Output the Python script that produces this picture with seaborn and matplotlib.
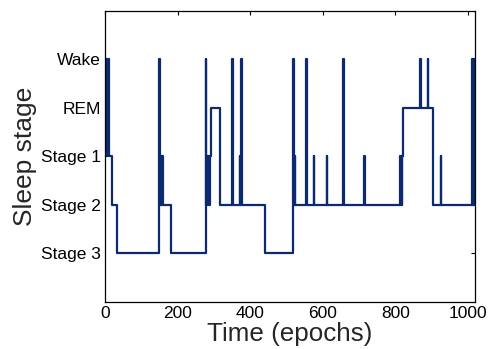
import numpy as np
import pandas as pd
import matplotlib
matplotlib.use("Agg")
import matplotlib.pyplot as plt
import seaborn as sns

# hypnogram: epoch where the stage changes, and the new stage
change_epoch = [0, 3, 4, 6, 7, 10, 18, 32,
                150, 151, 153, 154, 156, 157, 159, 182,
                278, 279, 281, 283, 285, 287, 289, 292, 318,
                351, 352, 372, 373, 374, 376, 377, 441,
                519, 520, 523, 524, 555, 556, 575, 576, 612, 613,
                657, 658, 715, 716, 813, 815, 816, 818, 819, 821,
                869, 870, 890, 891, 903, 925, 926, 1013, 1015, 1016, 1020]
change_stage = ["Wake", "Stage 1", "Wake", "Stage 1", "Wake", "Stage 1", "Stage 2", "Stage 3",
                "Wake", "Stage 1", "Stage 2", "Stage 1", "Stage 2", "Stage 1", "Stage 2", "Stage 3",
                "Wake", "Stage 2", "Stage 1", "Stage 2", "Stage 1", "Stage 2", "Stage 1", "REM", "Stage 2",
                "Wake", "Stage 2", "Stage 1", "Stage 2", "Stage 1", "Wake", "Stage 2", "Stage 3",
                "Wake", "Stage 2", "Stage 1", "Stage 2", "Wake", "Stage 2", "Stage 1", "Stage 2", "Stage 1", "Stage 2",
                "Wake", "Stage 2", "Stage 1", "Stage 2", "Stage 1", "Stage 2", "Stage 1", "Stage 2", "Stage 1", "REM",
                "Wake", "REM", "Wake", "REM", "Stage 2", "Stage 1", "Stage 2", "Wake", "Stage 2", "Wake", "Wake"]

stage_labels = ["Stage 3", "Stage 2", "Stage 1", "REM", "Wake"]
stage_values = [1, 2, 3, 4, 5]
xtick_values = [0, 200, 400, 600, 800, 1000]

sns.set_style("white")
plt.rcParams["font.family"] = ["Liberation Sans", "DejaVu Sans"]

stage_map = dict(zip(stage_labels, stage_values))
df = pd.DataFrame({"epoch": change_epoch,
                   "stage": [stage_map[s] for s in change_stage]})

fig = plt.figure(figsize=(4.89, 3.49), dpi=100)
ax = fig.add_axes([0.2147, 0.1355, 0.7567, 0.833])

sns.lineplot(data=df, x="epoch", y="stage", ax=ax, estimator=None,
             drawstyle="steps-post", color="#0b2a6f", linewidth=1.6)

ax.set_xlim(0, 1020)
ax.set_ylim(0, 6)
ax.set_xticks(xtick_values)
ax.set_yticks(stage_values)
ax.set_yticklabels(stage_labels)
ax.tick_params(direction="in", length=3, width=0.8, top=True, right=True,
               colors="black", pad=3, labelsize=12.5)
for sp in ax.spines.values():
    sp.set_color("black")
    sp.set_linewidth(0.9)

ax.set_xlabel("Time (epochs)", fontsize=18.7, labelpad=1)
ax.set_ylabel("Sleep stage", fontsize=19, labelpad=3)

fig.savefig("out.png", dpi=100)
